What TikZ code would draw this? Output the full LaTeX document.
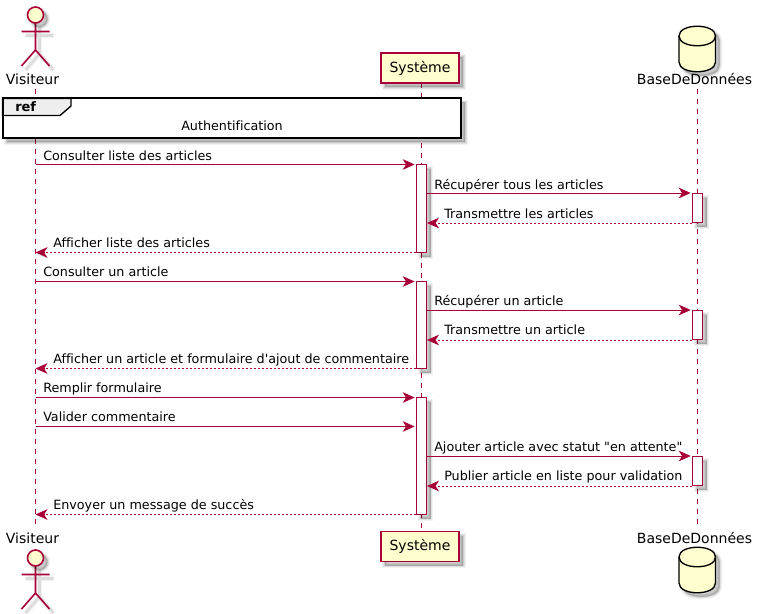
\documentclass[tikz,border=0pt]{standalone}
\usepackage{fontspec}
\newfontfamily\diagfont{DejaVu Sans}[Ligatures=NoCommon]
\usetikzlibrary{arrows.meta}
\definecolor{plum}{HTML}{A80036}
\definecolor{cream}{HTML}{FEFECE}
\definecolor{tabgrey}{HTML}{EEEEEE}
\tikzset{
  softfill/.style={
    preaction={draw=black,fill=black,opacity=.05,line width=4pt,transform canvas={shift={(4,4)}}},
    preaction={draw=black,fill=black,opacity=.07,line width=2.4pt,transform canvas={shift={(4,4)}}},
    preaction={draw=black,fill=black,opacity=.09,line width=1pt,transform canvas={shift={(4,4)}}}},
  softline/.style={
    preaction={draw=black,opacity=.05,line width=4pt,transform canvas={shift={(4,4)}}},
    preaction={draw=black,opacity=.09,line width=2pt,transform canvas={shift={(4,4)}}}},
  lifeline/.style={draw=plum,line width=.75pt,dash pattern=on 3.75pt off 3.75pt},
  actorline/.style={draw=plum,line width=1.2pt},
  actorhead/.style={draw=plum,fill=cream,line width=1.2pt,circle,inner sep=0pt,minimum size=12pt,softfill},
  partbox/.style={draw=plum,fill=cream,line width=1.1pt,inner sep=0pt,minimum width=58.5pt,minimum height=22.5pt,softfill,font=\diagfont\fontsize{10.5}{12}\selectfont},
  dbshape/.style={draw=black,fill=cream,line width=1pt,softfill},
  dbline/.style={draw=black,line width=1pt},
  partlabel/.style={inner sep=0pt,anchor=base,font=\diagfont\fontsize{10.5}{12}\selectfont},
  bar/.style={draw=plum,fill=white,line width=.75pt,inner sep=0pt,minimum width=7.5pt,softfill},
  msg/.style={draw=plum,line width=.75pt,-{Stealth[length=9pt,width=8pt,inset=2.6pt,fill=plum]}},
  reply/.style={msg,dash pattern=on 1.5pt off 1.5pt},
  msglabel/.style={inner sep=0pt,anchor=base west,font=\diagfont\fontsize{9.55}{12}\selectfont,text=black},
  refframe/.style={draw=black,fill=white,line width=1.5pt,softfill},
  reftab/.style={draw=black,fill=tabgrey,line width=1pt},
  reflabel/.style={inner sep=0pt,anchor=base west,font=\diagfont\bfseries\fontsize{9.75}{12}\selectfont},
  reftext/.style={inner sep=0pt,anchor=base west,font=\diagfont\fontsize{9.55}{12}\selectfont}
}
\begin{document}
\begin{tikzpicture}[x=0.75pt,y=-0.75pt]
\useasboundingbox (0,0) rectangle (759,613);
% lifelines
\coordinate (vt) at (35.5,89); \coordinate (vb) at (35.5,528);
\coordinate (st) at (421.5,83); \coordinate (sb) at (421.5,531);
\coordinate (dt) at (697.5,89); \coordinate (db) at (697.5,528);
\draw[lifeline] (vt) -- (vb);
\draw[lifeline] (st) -- (sb);
\draw[lifeline] (dt) -- (db);
% participants: Visiteur
\draw[actorline,softline] (35.5,23) -- (35.5,50) (21.5,31.5) -- (49.5,31.5) (21.5,66) -- (35.5,50) -- (49.5,66);
\node[actorhead] (vhead) at (35.5,15) {};
\node[partlabel] (vlabel) at (32.5,85) {Visiteur};
\node[partlabel] (vlabelb) at (32.5,543) {Visiteur};
\draw[actorline,softline] (35.5,566) -- (35.5,593) (21.5,574.5) -- (49.5,574.5) (21.5,609) -- (35.5,593) -- (49.5,609);
\node[actorhead] (vheadb) at (35.5,558) {};
% Systeme
\node[partbox] (sys) at (420,68) {Système};
\node[partbox] (sysb) at (420,546.5) {Système};
% database
\path[dbshape] (679,36) .. controls (679,23) and (715.5,23) .. (715.5,36) -- (715.5,62) .. controls (715.5,75) and (679,75) .. (679,62) -- cycle;
\draw[dbline] (679,36) .. controls (679,49) and (715.5,49) .. (715.5,36);
\node[partlabel] (dlabel) at (694.5,85) {BaseDeDonnées};
\path[dbshape] (679,557) .. controls (679,544) and (715.5,544) .. (715.5,557) -- (715.5,583) .. controls (715.5,596) and (679,596) .. (679,583) -- cycle;
\draw[dbline] (679,557) .. controls (679,570) and (715.5,570) .. (715.5,557);
\node[partlabel] (dlabelb) at (694.5,543) {BaseDeDonnées};
% ref frame
\path[refframe] (2.5,98.5) rectangle (461,138);
\path[reftab] (2.5,98.5) -- (71,98.5) -- (71,106) -- (60,115.5) -- (2.5,115.5) -- cycle;
\draw[draw=black,line width=1.5pt] (2.5,98.5) rectangle (461,138);
\node[reflabel] (reft) at (15,112) {ref};
\node[reftext] (auth) at (181,131) {Authentification};
% activation bars
\node[bar,minimum height=66pt] (sa) at (421.5,208.5) {};
\node[bar,minimum height=65.25pt] (sc) at (421.5,325) {};
\node[bar,minimum height=87.75pt] (se) at (421.5,456) {};
\node[bar,minimum height=21.75pt] (da) at (697.5,208) {};
\node[bar,minimum height=21.75pt] (dc) at (697.5,325) {};
\node[bar,minimum height=21.75pt] (de) at (697.5,471) {};
% free ends on the Visiteur lifeline
\coordinate (v1) at (35.5,164.5); \coordinate (v2) at (35.5,252.5);
\coordinate (v3) at (35.5,281.5); \coordinate (v4) at (35.5,368.5);
\coordinate (v5) at (35.5,397.5); \coordinate (v6) at (35.5,426.5);
\coordinate (v7) at (35.5,514.5);
% messages
\draw[msg] (v1) -- ([xshift=-1]sa.west |- v1);
\node[msglabel] (t1) at (43,160) {Consulter liste des articles};
\draw[msg] (sa.east |- da.north) -- ([xshift=-1]da.north west);
\node[msglabel] (t2) at (434,189) {Récupérer tous les articles};
\draw[reply] (da.south west) -- (sa.east |- da.south);
\node[msglabel] (t3) at (444,218) {Transmettre les articles};
\draw[reply] (sa.west |- v2) -- (v2);
\node[msglabel] (t4) at (53,247) {Afficher liste des articles};
\draw[msg] (v3) -- ([xshift=-1]sc.west |- v3);
\node[msglabel] (t5) at (43,276) {Consulter un article};
\draw[msg] (sc.east |- dc.north) -- ([xshift=-1]dc.north west);
\node[msglabel] (t6) at (434,305) {Récupérer un article};
\draw[reply] (dc.south west) -- (sc.east |- dc.south);
\node[msglabel] (t7) at (444,334) {Transmettre un article};
\draw[reply] (sc.west |- v4) -- (v4);
\node[msglabel] (t8) at (53,363) {Afficher un article et formulaire d'ajout de commentaire};
\draw[msg] (v5) -- ([xshift=-1]se.west |- v5);
\node[msglabel] (t9) at (43,392) {Remplir formulaire};
\draw[msg] (v6) -- ([xshift=-1]se.west |- v6);
\node[msglabel] (t10) at (43,421) {Valider commentaire};
\draw[msg] (se.east |- de.north) -- ([xshift=-1]de.north west);
\node[msglabel] (t11) at (434,451) {Ajouter article avec statut "en attente"};
\draw[reply] (de.south west) -- (se.east |- de.south);
\node[msglabel] (t12) at (444,480) {Publier article en liste pour validation};
\draw[reply] (se.west |- v7) -- (v7);
\node[msglabel] (t13) at (53,509) {Envoyer un message de succès};
\end{tikzpicture}
\end{document}
